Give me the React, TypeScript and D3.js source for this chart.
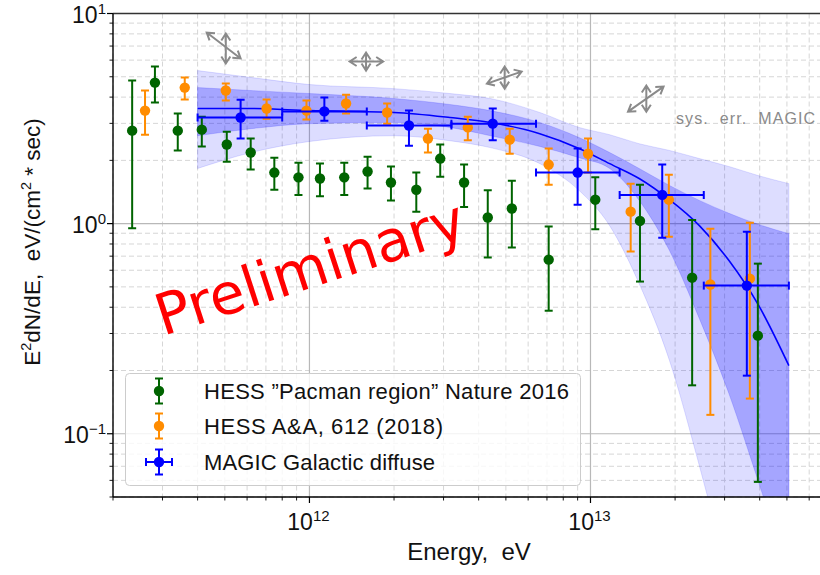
import React from 'react';
import * as d3 from 'd3';

// ---------------- data ----------------
// HESS "Pacman region" Nature 2016
const pacmanE = [2.34e11, 2.82e11, 3.4e11, 4.14e11, 5.08e11, 6.18e11, 7.5e11, 9.14e11, 1.09e12, 1.33e12, 1.61e12, 1.95e12, 2.4e12, 2.92e12, 3.55e12, 4.31e12, 5.25e12, 7.1e12, 1.04e13, 1.5e13, 2.3e13, 3.94e13];
const pacmanF = [2.77, 4.69, 2.77, 2.8, 2.38, 2.18, 1.75, 1.66, 1.64, 1.66, 1.77, 1.57, 1.45, 2.04, 1.57, 1.07, 1.18, 0.674, 1.3, 1.03, 0.553, 0.293];
const pacmanLo = [0.95, 3.77, 2.23, 2.33, 1.97, 1.81, 1.45, 1.37, 1.35, 1.37, 1.47, 1.29, 1.14, 1.67, 1.2, 0.69, 0.77, 0.385, 0.94, 0.53, 0.17, 0.059];
const pacmanHi = [4.8, 5.6, 3.34, 3.23, 2.74, 2.54, 2.06, 1.95, 1.93, 1.95, 2.08, 1.87, 1.75, 2.38, 1.91, 1.44, 1.6, 0.97, 1.66, 1.53, 1.04, 0.645];

// HESS A&A 612 (2018)
const aaE = [2.6e11, 3.6e11, 5.04e11, 7.04e11, 9.76e11, 1.35e12, 1.89e12, 2.64e12, 3.66e12, 5.16e12, 7.1e12, 9.8e12, 1.39e13, 1.9e13, 2.67e13, 3.69e13];
const aaF = [3.45, 4.44, 4.3, 3.53, 3.45, 3.73, 3.38, 2.54, 2.87, 2.51, 1.91, 2.15, 1.14, 1.3, 0.513, 0.547];
const aaLo = [2.65, 3.9, 3.85, 3.16, 3.13, 3.34, 2.99, 2.18, 2.49, 2.15, 1.53, 1.75, 0.736, 0.867, 0.123, 0.147];
const aaHi = [4.3, 4.96, 4.64, 3.9, 3.85, 4.11, 3.73, 2.83, 3.23, 2.83, 2.28, 2.54, 1.55, 1.71, 0.946, 1.01];

// MAGIC Galactic diffuse
const magicE = [5.69e11, 1.13e12, 2.26e12, 4.49e12, 9.0e12, 1.8e13, 3.6e13];
const magicELo = [4.0e11, 8.0e11, 1.6e12, 3.2e12, 6.4e12, 1.27e13, 2.53e13];
const magicEHi = [8.0e11, 1.6e12, 3.2e12, 6.4e12, 1.27e13, 2.53e13, 5.08e13];
const magicF = [3.2, 3.42, 2.93, 2.99, 1.75, 1.37, 0.507];
const magicLo = [2.54, 3.09, 2.35, 2.49, 1.23, 0.857, 0.189];
const magicHi = [3.89, 3.98, 3.45, 3.53, 2.28, 1.91, 0.916];

// MAGIC fit and its 1/2-sigma bands
const fitE = [4.0e11, 6.2e11, 1.0e12, 2.0e12, 3.16e12, 4.4e12, 6.6e12, 9.1e12, 1.17e13, 1.49e13, 1.91e13, 2.44e13, 3.11e13, 3.97e13, 5.08e13];
const fitF = [3.53, 3.53, 3.45, 3.38, 3.2, 3.03, 2.68, 2.28, 1.93, 1.64, 1.3, 0.978, 0.667, 0.407, 0.211];
const innerHi = [4.44, 4.3, 4.16, 3.94, 3.69, 3.45, 3.03, 2.57, 2.18, 1.83, 1.52, 1.29, 1.12, 0.99, 0.896];
const innerLo = [2.62, 2.83, 2.99, 3.03, 2.87, 2.62, 2.33, 2.06, 1.83, 1.29, 0.744, 0.353, 0.155, 0.0584, 0.0211];
const outerHi = [5.35, 4.96, 4.59, 4.39, 4.16, 3.94, 3.38, 2.87, 2.65, 2.4, 2.23, 2.04, 1.87, 1.69, 1.55];
const outerLo = [1.83, 2.18, 2.46, 2.62, 2.48, 2.3, 1.93, 1.44, 0.978, 0.518, 0.223, 0.0704, 0.02, 0.00535, 0.00129];

// systematic error arrows
const sysDiagFromE = [4.31e11, 1.39e12, 4.28e12, 1.36e13];
const sysDiagFromF = [8.12, 5.91, 4.64, 3.41];
const sysDiagToE = [5.69e11, 1.83e12, 5.69e12, 1.82e13];
const sysDiagToF = [6.11, 5.91, 5.29, 4.49];
const sysVertE = [5.04e11, 1.59e12, 4.95e12, 1.58e13];
const sysVertLo = [5.78, 5.35, 4.39, 3.41];
const sysVertHi = [8.03, 6.52, 5.59, 4.54];

const xMajor = [1e12, 1e13];
const xMajorLabels = ['12', '13'];
const yMajor = [0.1, 1, 10];
const yMajorLabels = ['\u22121', '0', '1'];
const legendLabels = ['HESS \u201DPacman region\u201D Nature 2016', 'HESS A&A, 612 (2018)', 'MAGIC Galactic diffuse'];

// ---------------- layout ----------------
const W = 820;
const H = 575;
const L = 113;
const R = 828;
const T = 13.5;
const B = 497;

const GREEN = '#006400';
const ORANGE = '#ff8c00';
const BLUE = '#0000ff';
const FONT = '"Liberation Sans", Arial, sans-serif';

const x = d3.scaleLog().domain([2e11, 7e13]).range([L, R]);
const y = d3.scaleLog().domain([0.05, 10]).range([B, T]);

function minorTicks(lo: number, hi: number) {
  const out: number[] = [];
  for (let d = Math.floor(Math.log10(lo)); d <= Math.ceil(Math.log10(hi)); d++) {
    for (let m = 2; m <= 9; m++) {
      const v = m * Math.pow(10, d);
      if (v >= lo * 0.999 && v <= hi * 1.001) out.push(v);
    }
  }
  return out;
}

function arrowPath(x1: number, y1: number, x2: number, y2: number) {
  const a = Math.atan2(y2 - y1, x2 - x1);
  const hl = 7, hw = 4.5;
  const head = (px: number, py: number, ang: number) => {
    const bx = px - hl * Math.cos(ang), by = py - hl * Math.sin(ang);
    const nx = -Math.sin(ang) * hw, ny = Math.cos(ang) * hw;
    return `M${bx + nx},${by + ny}L${px},${py}L${bx - nx},${by - ny}`;
  };
  return `M${x1},${y1}L${x2},${y2}` + head(x2, y2, a) + head(x1, y1, a + Math.PI);
}

function ErrPoint({ cx, cy, top, bot, color, xl, xr }: any) {
  const cap = 4;
  return (
    <g stroke={color} strokeWidth={2} fill={color}>
      <line x1={cx} x2={cx} y1={top} y2={bot} />
      <line x1={cx - cap} x2={cx + cap} y1={top} y2={top} />
      <line x1={cx - cap} x2={cx + cap} y1={bot} y2={bot} />
      {xl !== undefined && (
        <g>
          <line x1={xl} x2={xr} y1={cy} y2={cy} />
          <line x1={xl} x2={xl} y1={cy - cap} y2={cy + cap} />
          <line x1={xr} x2={xr} y1={cy - cap} y2={cy + cap} />
        </g>
      )}
      <circle cx={cx} cy={cy} r={5.2} stroke="none" />
    </g>
  );
}

export default function App() {
  const xMinor = minorTicks(2e11, 7e13);
  const yMinor = minorTicks(0.05, 10);

  const fitPts = fitE.map((e, i) => ({ e, f: fitF[i], ih: innerHi[i], il: innerLo[i], oh: outerHi[i], ol: outerLo[i] }));
  const outerArea = d3.area<any>().x(d => x(d.e)).y0(d => y(d.ol)).y1(d => y(d.oh)).curve(d3.curveMonotoneX)(fitPts) || '';
  const innerArea = d3.area<any>().x(d => x(d.e)).y0(d => y(d.il)).y1(d => y(d.ih)).curve(d3.curveMonotoneX)(fitPts) || '';
  const fitLine = d3.line<any>().x(d => x(d.e)).y(d => y(d.f)).curve(d3.curveMonotoneX)(fitPts) || '';

  const legendY = [391, 426, 462];

  return (
    <svg width={W} height={H} style={{ position: 'absolute', left: 0, top: 0, background: '#fff' }} fontFamily={FONT}>
      <defs>
        <clipPath id="plotclip">
          <rect x={L} y={T} width={R - L} height={B - T} />
        </clipPath>
      </defs>
      <rect x={0} y={0} width={W} height={H} fill="#fff" />

      {/* grid */}
      <g>
        {xMinor.map((v, i) => (
          <line key={'xm' + i} x1={x(v)} x2={x(v)} y1={T} y2={B} stroke="#d6d6d6" strokeWidth={1} strokeDasharray="5,3" />
        ))}
        {yMinor.map((v, i) => (
          <line key={'ym' + i} x1={L} x2={R} y1={y(v)} y2={y(v)} stroke="#d6d6d6" strokeWidth={1} strokeDasharray="5,3" />
        ))}
        {xMajor.map((v, i) => (
          <line key={'xM' + i} x1={x(v)} x2={x(v)} y1={T} y2={B} stroke="#b8b8b8" strokeWidth={1.2} />
        ))}
        {yMajor.map((v, i) => (
          <line key={'yM' + i} x1={L} x2={R} y1={y(v)} y2={y(v)} stroke="#b8b8b8" strokeWidth={1.2} />
        ))}
      </g>

      {/* bands + fit */}
      <g clipPath="url(#plotclip)">
        <path d={outerArea} fill="rgba(0,0,255,0.135)" stroke="rgba(0,0,255,0.12)" strokeWidth={1} />
        <path d={innerArea} fill="rgba(0,0,255,0.25)" stroke="rgba(0,0,255,0.15)" strokeWidth={1} />
        <path d={fitLine} fill="none" stroke={BLUE} strokeWidth={1.6} />
      </g>

      {/* data */}
      <g clipPath="url(#plotclip)">
        {pacmanE.map((e, i) => (
          <ErrPoint key={'g' + i} cx={x(e)} cy={y(pacmanF[i])} top={y(pacmanHi[i])} bot={y(pacmanLo[i])} color={GREEN} />
        ))}
        {aaE.map((e, i) => (
          <ErrPoint key={'o' + i} cx={x(e)} cy={y(aaF[i])} top={y(aaHi[i])} bot={y(aaLo[i])} color={ORANGE} />
        ))}
        {magicE.map((e, i) => (
          <ErrPoint key={'b' + i} cx={x(e)} cy={y(magicF[i])} top={y(magicHi[i])} bot={y(magicLo[i])} color={BLUE}
            xl={x(magicELo[i])} xr={x(magicEHi[i])} />
        ))}
      </g>

      {/* sys error arrows */}
      <g stroke="#8a8a8a" strokeWidth={2} fill="none" strokeLinejoin="miter">
        {sysDiagFromE.map((e, i) => (
          <g key={'s' + i}>
            <path d={arrowPath(x(e), y(sysDiagFromF[i]), x(sysDiagToE[i]), y(sysDiagToF[i]))} />
            <path d={arrowPath(x(sysVertE[i]), y(sysVertHi[i]), x(sysVertE[i]), y(sysVertLo[i]))} />
          </g>
        ))}
      </g>
      <text x={676} y={124} fontSize={16} fill="#8a8a8a" textLength={139} lengthAdjust="spacing" style={{ whiteSpace: 'pre' }}>sys.  err.  MAGIC</text>

      {/* Preliminary */}
      <text x={163} y={336} fontSize={57} fill="#ff0000" fontFamily='"DejaVu Sans", sans-serif' transform="rotate(-18 163 336)">Preliminary</text>

      {/* spines */}
      <line x1={L} x2={R} y1={T} y2={T} stroke="#333" strokeWidth={1.6} />
      <line x1={L} x2={L} y1={T} y2={B} stroke="#000" strokeWidth={1.4} />
      <line x1={L} x2={R} y1={B} y2={B} stroke="#000" strokeWidth={1.4} />

      {/* ticks */}
      <g stroke="#000">
        {xMinor.map((v, i) => (
          <line key={'xt' + i} x1={x(v)} x2={x(v)} y1={B} y2={B + 3.5} strokeWidth={0.9} />
        ))}
        {xMajor.map((v, i) => (
          <line key={'xT' + i} x1={x(v)} x2={x(v)} y1={B} y2={B + 6} strokeWidth={1.2} />
        ))}
        {yMinor.map((v, i) => (
          <line key={'yt' + i} x1={L - 3.5} x2={L} y1={y(v)} y2={y(v)} strokeWidth={0.9} />
        ))}
        {yMajor.map((v, i) => (
          <line key={'yT' + i} x1={L - 6} x2={L} y1={y(v)} y2={y(v)} strokeWidth={1.2} />
        ))}
      </g>
      <g fontSize={23} fill="#111">
        {xMajor.map((v, i) => (
          <text key={'xl' + i} x={x(v) - 1} y={530} textAnchor="middle">10<tspan fontSize={15} dy={-9}>{xMajorLabels[i]}</tspan></text>
        ))}
        {yMajor.map((v, i) => (
          <text key={'yl' + i} x={106} y={y(v) + 9} textAnchor="end">10<tspan fontSize={15} dy={-9}>{yMajorLabels[i]}</tspan></text>
        ))}
      </g>

      {/* axis labels */}
      <text x={469} y={560} textAnchor="middle" fontSize={24} fill="#111" style={{ whiteSpace: 'pre' }}>Energy,  eV</text>
      <text transform="translate(40,242) rotate(-90)" textAnchor="middle" fontSize={22.5} fill="#111" style={{ whiteSpace: 'pre' }}>
        E<tspan fontSize={14.5} dy={-9}>2</tspan><tspan dy={9}>dN/dE,  eV/(cm</tspan><tspan fontSize={14.5} dy={-9}>2</tspan><tspan dy={9}> * sec)</tspan>
      </text>

      {/* legend */}
      <rect x={125.5} y={373.5} width={455} height={112} rx={4} fill="#fff" fillOpacity={0.8} stroke="#cccccc" strokeWidth={1} />
      <ErrPoint cx={159} cy={legendY[0]} top={legendY[0] - 12.5} bot={legendY[0] + 12.5} color={GREEN} />
      <ErrPoint cx={159} cy={legendY[1]} top={legendY[1] - 12.5} bot={legendY[1] + 12.5} color={ORANGE} />
      <ErrPoint cx={159} cy={legendY[2]} top={legendY[2] - 12.5} bot={legendY[2] + 12.5} color={BLUE} xl={146} xr={172} />
      <g fontSize={22} fill="#111">
        <text x={204} y={legendY[0] + 8} textLength={365} lengthAdjust="spacing" style={{ whiteSpace: 'pre' }}>{legendLabels[0]}</text>
        <text x={204} y={legendY[1] + 8} textLength={239} lengthAdjust="spacing" style={{ whiteSpace: 'pre' }}>{legendLabels[1]}</text>
        <text x={204} y={legendY[2] + 8} textLength={231} lengthAdjust="spacing" style={{ whiteSpace: 'pre' }}>{legendLabels[2]}</text>
      </g>
    </svg>
  );
}
